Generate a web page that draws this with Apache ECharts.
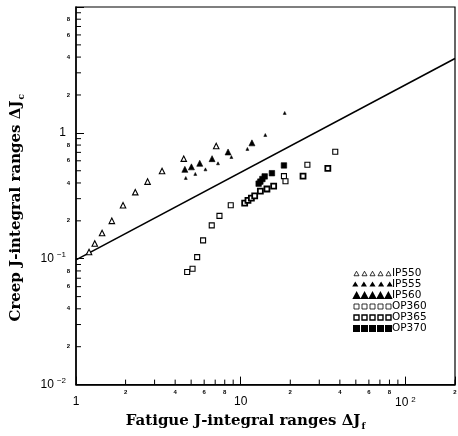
<!DOCTYPE html>
<html>
<head>
<meta charset="utf-8">
<script src="https://cdn.jsdelivr.net/npm/echarts@6/dist/echarts.min.js"></script>
<style>html,body{margin:0;padding:0;background:#fff;}#c{width:458px;height:436px;}</style>
</head>
<body>
<div id="c"></div>
<script>
// ---- data ----
const ip550 = [[1.20,0.113],[1.30,0.132],[1.44,0.160],[1.65,0.200],[1.93,0.266],[2.29,0.338],[2.72,0.410],[3.33,0.498],[4.51,0.624],[7.10,0.787]];
const ip555 = [[4.64,0.438],[5.30,0.472],[6.11,0.513],[7.28,0.573],[8.78,0.643],[10.98,0.746],[14.1,0.962],[18.5,1.44]];
const ip560 = [[4.58,0.513],[5.02,0.537],[5.64,0.573],[6.70,0.624],[8.38,0.705],[11.7,0.833]];
const op360 = [[4.73,0.0784],[5.10,0.0832],[5.44,0.103],[5.91,0.140],[6.67,0.184],[7.43,0.219],[8.70,0.266],[18.3,0.453],[18.7,0.413],[25.4,0.558],[37.5,0.707]];
const op365 = [[10.57,0.277],[11.07,0.291],[11.61,0.303],[12.16,0.316],[13.16,0.345],[14.43,0.358],[15.85,0.378],[23.9,0.453],[33.8,0.523]];
const op370 = [[12.85,0.395],[13.16,0.410],[13.54,0.430],[13.98,0.451],[15.47,0.478],[18.3,0.551]];
const fitLine = [[1,0.098],[200,3.9]];
const seriesNames = ['IP550','IP555','IP560','OP360','OP365','OP370'];
const xRange = [1, 200];
const yRange = [0.01, 10];
const xMinorTicks = [2,3,4,5,6,7,8,9,20,30,40,50,60,70,80,90,200];
const yMinorTicks = [0.02,0.03,0.04,0.05,0.06,0.07,0.08,0.09,0.2,0.3,0.4,0.5,0.6,0.7,0.8,0.9,2,3,4,5,6,7,8,9];
const minorLabelDigits = ['2','4','6','8'];
const xTitle = 'Fatigue J-integral ranges ΔJ';
const xTitleSub = 'f';
const yTitle = 'Creep J-integral ranges ΔJ';
const yTitleSub = 'c';

// ---- helpers ----
function lg(v){ return Math.round(Math.log10(v)*1000)/1000; }
function majorLabel(v, isY){
  const e = lg(v);
  if (Math.abs(e - Math.round(e)) > 1e-6) return '';
  const n = Math.round(e);
  if (n === 0) return '1';
  if (n === 1) return isY ? '' : '10';
  return '10{sup|' + (n < 0 ? '−' + (-n) : n) + '}';
}
function minorLabel(v){
  const d = String(Math.round(v / Math.pow(10, Math.floor(lg(v)+1e-9))));
  return minorLabelDigits.indexOf(d) >= 0 ? d : '';
}
function rowPath(shape, n, w, h, gap){
  let s = '';
  for (let i=0;i<n;i++){
    const x = i*(w+gap);
    if (shape==='tri') s += 'M'+x+','+h+'L'+(x+w/2)+',0L'+(x+w)+','+h+'Z';
    else s += 'M'+x+',0L'+(x+w)+',0L'+(x+w)+','+h+'L'+x+','+h+'Z';
  }
  return 'path://' + s;
}
const supRich = {
  sup: {fontSize: 8, fontFamily: 'Liberation Sans', color:'#000', verticalAlign:'top', padding:[0,0,7,3]}
};
const subRich = {
  sub: {fontSize: 9, fontFamily: 'DejaVu Serif', fontWeight:'bold', color:'#000', verticalAlign:'bottom', padding:[10,0,0,1]}
};

const chart = echarts.init(document.getElementById('c'), null, {renderer:'canvas'});
const black = '#000';

function minorSeries(values, isX){
  return {
    type:'custom', coordinateSystem:'cartesian2d', silent:true, clip:false, z:5,
    data: values.map(v => isX ? [v, yRange[0]] : [xRange[0], v]),
    renderItem: function(params, api){
      const val = isX ? api.value(0) : api.value(1);
      const p = api.coord([api.value(0), api.value(1)]);
      const kids = [];
      if (isX) kids.push({type:'line', shape:{x1:p[0],y1:p[1],x2:p[0],y2:p[1]-5}, style:{stroke:black,lineWidth:1}});
      else kids.push({type:'line', shape:{x1:p[0],y1:p[1],x2:p[0]+5,y2:p[1]}, style:{stroke:black,lineWidth:1}});
      const lab = minorLabel(val);
      if (lab) {
        kids.push({type:'text', x: isX ? p[0] : p[0]-6, y: isX ? p[1]+5 : p[1],
          style:{text:lab, fontSize:6, fontWeight:'bold', fontFamily:'Liberation Sans', fill:black,
                 align: isX ? 'center' : 'right', verticalAlign: isX ? 'top' : 'middle'}});
      }
      return {type:'group', children:kids};
    }
  };
}

const option = {
  animation:false,
  backgroundColor:'#fff',
  grid:{left:76, right:1.5, top:7, bottom:43, show:true, borderColor:black, borderWidth:1.2, backgroundColor:'transparent'},
  xAxis:{
    type:'log', logBase:10, min:xRange[0], max:xRange[1],
    name: xTitle + '{sub|' + xTitleSub + '}', nameLocation:'middle', nameGap:22,
    nameTextStyle:{fontFamily:'DejaVu Serif', fontWeight:'bold', fontSize:15, color:black, padding:[0,40,0,0], rich:subRich},
    axisLine:{show:true, lineStyle:{color:black, width:1.5}},
    axisTick:{show:true, inside:true, length:8, lineStyle:{color:black, width:1}},
    minorTick:{show:false},
    splitLine:{show:false},
    axisLabel:{margin:11, fontFamily:'Liberation Sans', fontSize:12, color:black, showMinLabel:true, showMaxLabel:true,
      formatter: v => majorLabel(v, false), rich:supRich}
  },
  yAxis:{
    type:'log', logBase:10, min:yRange[0], max:yRange[1],
    name: yTitle + '{sub|' + yTitleSub + '}', nameLocation:'middle', nameGap:50, nameRotate:90,
    nameTextStyle:{fontFamily:'DejaVu Serif', fontWeight:'bold', fontSize:15, color:black, padding:[0,24,0,0], rich:subRich},
    axisLine:{show:true, lineStyle:{color:black, width:1.5}},
    axisTick:{show:true, inside:true, length:8, lineStyle:{color:black, width:1}},
    minorTick:{show:false},
    splitLine:{show:false},
    axisLabel:{margin:10, fontFamily:'Liberation Sans', fontSize:12, color:black, showMinLabel:true, showMaxLabel:true,
      formatter: v => majorLabel(v, true), rich:supRich}
  },
  legend:{
    orient:'vertical', left:348, top:263, itemGap:0, itemWidth:37, itemHeight:5.5, symbolKeepAspect:true,
    textStyle:{fontFamily:'DejaVu Sans', fontSize:10.5, color:black, lineHeight:9.5, padding:[0,0,0,-4]},
    data:[
      {name:seriesNames[0], icon: rowPath('tri',5,5,4.5,3), itemStyle:{color:'#fff', borderColor:black, borderWidth:0.8}},
      {name:seriesNames[1], icon: rowPath('tri',5,2.4,2,5.6)},
      {name:seriesNames[2], icon: rowPath('tri',5,5.2,4.8,2.7)},
      {name:seriesNames[3], icon: rowPath('sq',5,5,5,3), itemStyle:{color:'#fff', borderColor:black, borderWidth:0.8}},
      {name:seriesNames[4], icon: rowPath('sq',5,5,5,3), itemStyle:{color:'#fff', borderColor:black, borderWidth:1.4}},
      {name:seriesNames[5], icon: rowPath('sq',5,5,5,3)}
    ]
  },
  series:[
    {type:'line', data:fitLine, showSymbol:false, symbol:'none', lineStyle:{color:black, width:1.6}, silent:true, z:2},
    {name:seriesNames[0], type:'scatter', data:ip550, symbol:'triangle', symbolSize:5.5,
      itemStyle:{color:'#fff', borderColor:black, borderWidth:1.1, opacity:1}},
    {name:seriesNames[1], type:'scatter', data:ip555, symbol:'triangle', symbolSize:3,
      itemStyle:{color:black, borderColor:black, borderWidth:0.5, opacity:1}},
    {name:seriesNames[2], type:'scatter', data:ip560, symbol:'triangle', symbolSize:6,
      itemStyle:{color:black, borderColor:black, borderWidth:0.6, opacity:1}},
    {name:seriesNames[3], type:'scatter', data:op360, symbol:'rect', symbolSize:5,
      itemStyle:{color:'#fff', borderColor:black, borderWidth:1.1, opacity:1}},
    {name:seriesNames[4], type:'scatter', data:op365, symbol:'rect', symbolSize:5,
      itemStyle:{color:'#fff', borderColor:black, borderWidth:1.8, opacity:1}},
    {name:seriesNames[5], type:'scatter', data:op370, symbol:'rect', symbolSize:5.5,
      itemStyle:{color:black, borderColor:black, borderWidth:0.6, opacity:1}},
    minorSeries(xMinorTicks, true),
    minorSeries(yMinorTicks, false)
  ]
};
chart.setOption(option);
</script>
</body>
</html>
